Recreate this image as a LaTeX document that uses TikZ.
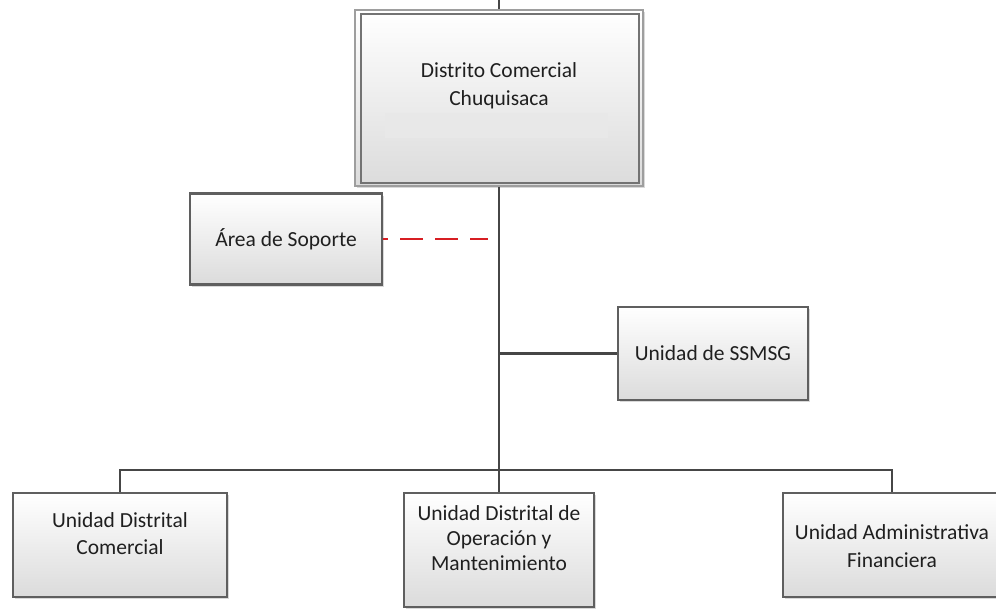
\documentclass[tikz,border=0pt]{standalone}
\usepackage{fontspec}
\setmainfont{Carlito}
\usetikzlibrary{shadows}
\definecolor{dashred}{RGB}{215,30,35}
\definecolor{linegray}{RGB}{70,70,70}
\definecolor{bordergray}{RGB}{95,95,95}
\begin{document}
\begin{tikzpicture}[x=1pt,y=-1pt,
  box/.style={draw=bordergray, line width=2.4pt, top color=white, bottom color=black!14,
    drop shadow={shadow xshift=2pt, shadow yshift=-2pt, opacity=0.3, fill=black!50}},
  conn/.style={draw=linegray, line width=2.6pt},
  txt/.style={font=\fontsize{21.5}{27}\selectfont, align=center, text=black!88},
  support/.style={draw=dashred, line width=2.6pt, dash pattern=on 23pt off 12pt, dash phase=18pt}
]
\useasboundingbox (0,0) rectangle (996,610);
\clip (0,0) rectangle (996,610);

% top box
\node[box, draw=black!38, line width=1.8pt, minimum width=288pt, minimum height=176pt] (dc) at (499,98) {};
\draw[black!55, line width=1.8pt] ([xshift=7pt,yshift=-5pt]dc.north west) rectangle ([xshift=-5pt,yshift=4pt]dc.south east);
\fill[black!9] (385,113) rectangle (608,138);
\node[txt, font=\fontsize{21.5}{28}\selectfont] (dctext) at (499,86) {Distrito Comercial\\Chuquisaca};
\coordinate (top) at (499,0);
\draw[conn] (top) -- (dc.north);

% spine
\coordinate (hub) at (499,470);
\draw[conn] (dc.south) -- (hub);

% support
\node[box, txt, minimum width=192pt, minimum height=91pt] (as) at (286,239) {Área de Soporte};
\coordinate (dend) at (488,239);
\draw[support] (as.east) -- (dend);

% SSMSG
\node[box, txt, minimum width=190pt, minimum height=93pt] (ss) at (713,353.5) {Unidad de SSMSG};
\coordinate (j1) at (499,353.5);
\draw[conn] (j1) -- (ss.west);

% bottom boxes
\node[box, minimum width=214pt, minimum height=104pt] (udc) at (120,545) {};
\node[txt] (udctext) at ([yshift=11.5pt]udc.center) {Unidad Distrital\\Comercial};
\node[box, minimum width=190pt, minimum height=114pt] (udo) at (499,550) {};
\node[txt, font=\fontsize{21.5}{25}\selectfont] (udotext) at ([yshift=12pt]udo.center) {Unidad Distrital de\\Operación y\\Mantenimiento};
\node[box, minimum width=218pt, minimum height=104pt] (uaf) at (892,545) {};
\node[txt, font=\fontsize{21.5}{28}\selectfont] (uaftext) at ([yshift=-1pt]uaf.center) {Unidad Administrativa\\Financiera};

\draw[conn] (udc.north) -- (udc.north |- hub) -- (uaf.north |- hub) -- (uaf.north);
\draw[conn] (hub) -- (udo.north);
\end{tikzpicture}
\end{document}
